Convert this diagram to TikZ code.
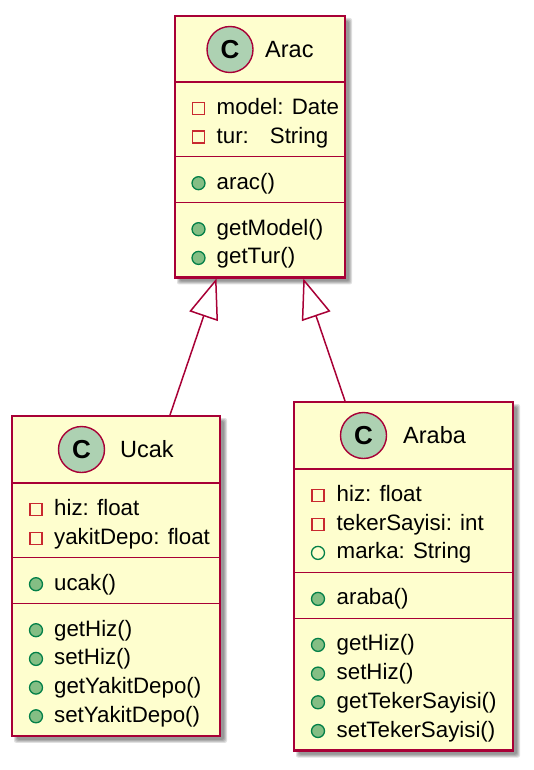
\documentclass[tikz,border=0pt]{standalone}
\usepackage{fontspec}
\setmainfont{Liberation Sans}
\usetikzlibrary{arrows.meta}
\definecolor{umlred}{HTML}{A80036}
\definecolor{umlfill}{HTML}{FEFECE}
\definecolor{badgefill}{HTML}{ADD1B2}
\definecolor{privred}{HTML}{C82930}
\definecolor{pubgreen}{HTML}{038048}
\definecolor{pubfill}{HTML}{84BE84}
\newcommand\umlshadow[4]{%
  \foreach \k in {0,1,2,3}{%
    \fill[black, opacity=0.12, rounded corners=2pt] (#1+5-\k,#2+5-\k) rectangle (#3+4+\k,#4+4+\k);
  }%
}
\tikzset{
  classbox/.style={draw=umlred, line width=2.2pt, fill=umlfill},
  sepline/.style={draw=umlred, line width=1.3pt},
  rowtext/.style={anchor=base west, inner sep=0pt, font=\fontsize{22.3}{26}\selectfont},
  titletext/.style={anchor=base west, inner sep=0pt, font=\fontsize{23.5}{27}\selectfont},
  badge/.style={circle, draw=umlred, fill=badgefill, line width=1.4pt, minimum size=46pt, inner sep=0pt, font=\fontsize{26}{28}\selectfont\bfseries},
  privicon/.style={rectangle, draw=privred, line width=1.4pt, minimum size=12pt, inner sep=0pt},
  pubicon/.style={circle, draw=pubgreen, fill=pubfill, line width=1.3pt, minimum size=13pt, inner sep=0pt},
  pubfieldicon/.style={circle, draw=pubgreen, line width=1.3pt, minimum size=13pt, inner sep=0pt},
  inherit/.style={draw=umlred, line width=1.5pt, -{Triangle[open, length=40pt, width=30pt, line width=1.5pt]}},
}
\begin{document}
\begin{tikzpicture}[x=1pt, y=-1pt]
\useasboundingbox (0,0) rectangle (534,770);
% ---------- Arac ----------
\umlshadow{175}{16}{345}{277.4}
\draw[classbox] (175,16) rectangle (345,277.4);
\draw[sepline] (175,82) -- (345,82);
\draw[sepline] (175,156.7) -- (345,156.7);
\draw[sepline] (175,202.7) -- (345,202.7);
\node[badge] (aracC) at (230,49.5) {C};
\node[titletext] (aracT) at (265,57.9) {Arac};
\node[privicon] (a1i) at (198.5,108.5) {};
\node[rowtext] (a1) at (216.5,114.5) {model: Date};
\node[privicon] (a2i) at (198.5,137.2) {};
\node[rowtext] (a2) at (216.5,143.2) {tur:\hspace*{21pt}String};
\node[pubicon] (a3i) at (198.5,183.2) {};
\node[rowtext] (a3) at (216.5,189.2) {arac()};
\node[pubicon] (a4i) at (198.5,229.2) {};
\node[rowtext] (a4) at (216.5,235.2) {getModel()};
\node[pubicon] (a5i) at (198.5,257.9) {};
\node[rowtext] (a5) at (216.5,263.9) {getTur()};
% ---------- Ucak ----------
\umlshadow{12}{416}{220}{735.8}
\draw[classbox] (12,416) rectangle (220,735.8);
\draw[sepline] (12,483) -- (220,483);
\draw[sepline] (12,557.7) -- (220,557.7);
\draw[sepline] (12,603.7) -- (220,603.7);
\node[badge] (ucakC) at (81.5,449.5) {C};
\node[titletext] (ucakT) at (120,457.9) {Ucak};
\node[privicon] (u1i) at (36,509.5) {};
\node[rowtext] (u1) at (54,515.5) {hiz: float};
\node[privicon] (u2i) at (36,538.2) {};
\node[rowtext] (u2) at (54,544.2) {yakitDepo: float};
\node[pubicon] (u3i) at (36,584.2) {};
\node[rowtext] (u3) at (54,590.2) {ucak()};
\node[pubicon] (u4i) at (36,630.2) {};
\node[rowtext] (u4) at (54,636.2) {getHiz()};
\node[pubicon] (u5i) at (36,658.9) {};
\node[rowtext] (u5) at (54,664.9) {setHiz()};
\node[pubicon] (u6i) at (36,687.6) {};
\node[rowtext] (u6) at (54,693.6) {getYakitDepo()};
\node[pubicon] (u7i) at (36,716.3) {};
\node[rowtext] (u7) at (54,722.3) {setYakitDepo()};
% ---------- Araba ----------
\umlshadow{294}{402}{513}{750.5}
\draw[classbox] (294,402) rectangle (513,750.5);
\draw[sepline] (294,469) -- (513,469);
\draw[sepline] (294,572.4) -- (513,572.4);
\draw[sepline] (294,618.4) -- (513,618.4);
\node[badge] (arabaC) at (363.5,435.5) {C};
\node[titletext] (arabaT) at (403,443.9) {Araba};
\node[privicon] (b1i) at (318,495.5) {};
\node[rowtext] (b1) at (336.5,501.5) {hiz: float};
\node[privicon] (b2i) at (318,524.2) {};
\node[rowtext] (b2) at (336.5,530.2) {tekerSayisi: int};
\node[pubfieldicon] (b3i) at (318,552.9) {};
\node[rowtext] (b3) at (336.5,558.9) {marka: String};
\node[pubicon] (b4i) at (318,598.9) {};
\node[rowtext] (b4) at (336.5,604.9) {araba()};
\node[pubicon] (b5i) at (318,644.9) {};
\node[rowtext] (b5) at (336.5,650.9) {getHiz()};
\node[pubicon] (b6i) at (318,673.6) {};
\node[rowtext] (b6) at (336.5,679.6) {setHiz()};
\node[pubicon] (b7i) at (318,702.3) {};
\node[rowtext] (b7) at (336.5,708.3) {getTekerSayisi()};
\node[pubicon] (b8i) at (318,731) {};
\node[rowtext] (b8) at (336.5,737) {setTekerSayisi()};
% ---------- inheritance ----------
\coordinate (ucakTop) at (170,415);
\coordinate (aracLeft) at (216.5,278.4);
\coordinate (arabaTop) at (345,401);
\coordinate (aracRight) at (303.3,278.4);
\draw[inherit] (ucakTop) -- (aracLeft);
\draw[inherit] (arabaTop) -- (aracRight);
\end{tikzpicture}
\end{document}
